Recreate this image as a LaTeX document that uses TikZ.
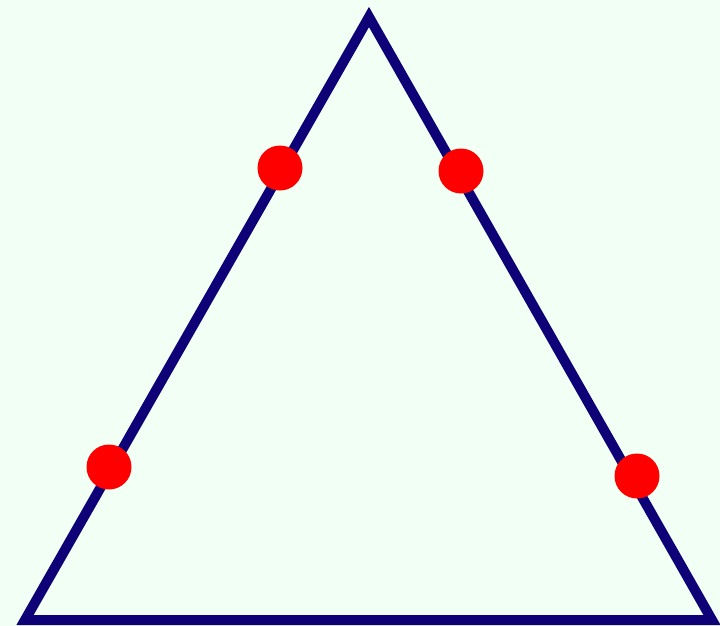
\documentclass[tikz,border=0pt]{standalone}
\definecolor{bgmint}{RGB}{242,255,244}
\definecolor{edgenavy}{RGB}{14,0,118}
\begin{document}
\begin{tikzpicture}[x=1pt, y=-1pt,
      edge/.style={draw=edgenavy, line width=10pt, line join=miter},
      dot/.style={circle, fill=red, minimum size=45pt, inner sep=0pt}]
    \fill[bgmint] (0,0) rectangle (720,626);
    \useasboundingbox (0,0) rectangle (720,626);
    \coordinate (top) at (369,17);
    \coordinate (bl) at (25,620);
    \coordinate (br) at (712,620);
    \draw[edge] (top) -- (br) -- (bl) -- cycle;
    \foreach \name/\x/\y in {pa/280/168, pb/461/171, pc/109/467, pd/637/476} {\node[dot] (\name) at (\x,\y) {};}
  \end{tikzpicture}
\end{document}
